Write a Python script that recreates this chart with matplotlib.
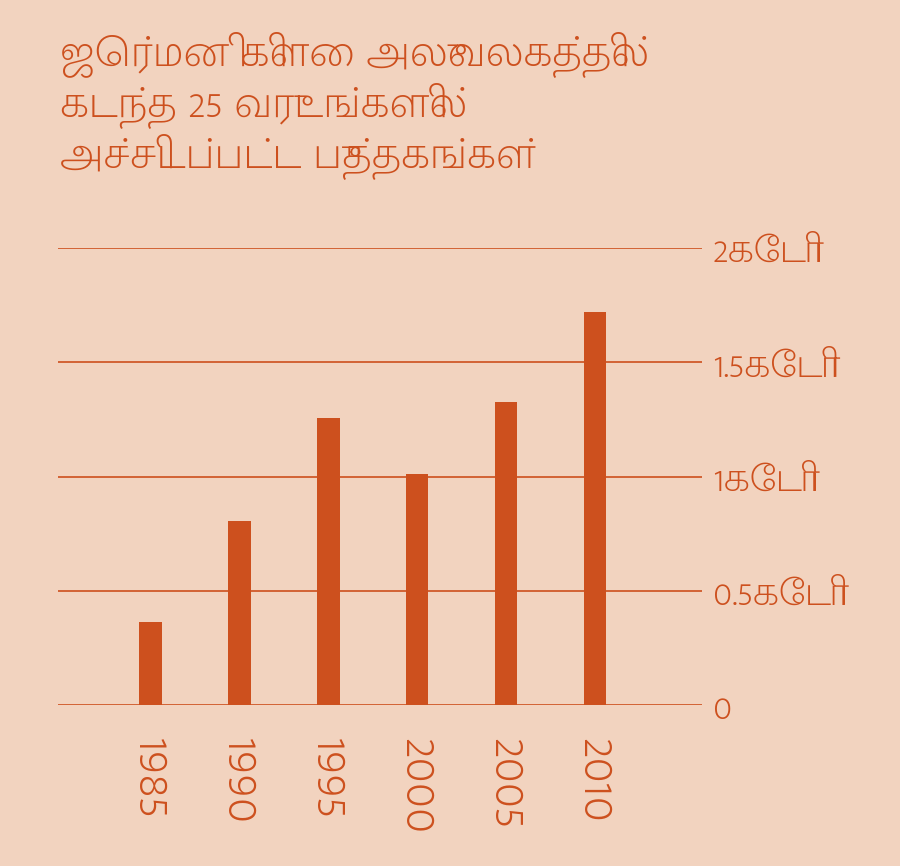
import matplotlib
matplotlib.use("Agg")
import matplotlib.pyplot as plt
from matplotlib.ticker import FixedLocator, FixedFormatter

years = ["1985", "1990", "1995", "2000", "2005", "2010"]
books_crore = [0.365, 0.806, 1.257, 1.013, 1.326, 1.718]
ytick_values = [0, 0.5, 1, 1.5, 2]
ytick_labels = ["0", "0.5கோடி", "1கோடி", "1.5கோடி", "2கோடி"]
title = "ஜெர்மனி கிளை அலுவலகத்தில்\nகடந்த 25 வருடங்களில்\nஅச்சிடப்பட்ட புத்தகங்கள்"

BG = "#F2D3BF"
FG = "#CD501E"
FAM = ["Mukta Malar", "Hind Madurai", "Noto Sans Tamil", "DejaVu Sans"]

fig = plt.figure(figsize=(9, 8.66), dpi=100, facecolor=BG)
ax = fig.add_axes([58/900, 1-705/866, (702-58)/900, (705-248)/866])
ax.set_facecolor(BG)

x = list(range(len(years)))
ax.bar(x, books_crore, width=0.25, color=FG, zorder=3)
ax.set_xlim(-1.04, 6.2)
ax.set_ylim(0, 2)

for s in ax.spines.values():
    s.set_visible(False)

ax.yaxis.set_major_locator(FixedLocator(ytick_values))
ax.yaxis.set_major_formatter(FixedFormatter(ytick_labels))
ax.yaxis.tick_right()
ax.grid(axis="y", color=FG, linewidth=1.2, zorder=1)
ax.tick_params(axis="y", length=0, pad=8, labelsize=29, labelcolor=FG)
for lab in ax.get_yticklabels():
    lab.set_family(FAM)
    lab.set_fontweight("light")
    lab.set_verticalalignment("center_baseline")

ax.set_xticks(x)
ax.set_xticklabels(years, rotation=270, va="top", ha="center")
ax.tick_params(axis="x", length=0, pad=24, labelsize=38, labelcolor=FG)
for lab in ax.get_xticklabels():
    lab.set_family(FAM)
    lab.set_fontweight("light")

fig.text(60/900, 1-32/866, title, ha="left", va="top", fontsize=32,
         color=FG, family=FAM, fontweight="light", linespacing=1.15)

fig.savefig("out.png", dpi=100, facecolor=BG)
